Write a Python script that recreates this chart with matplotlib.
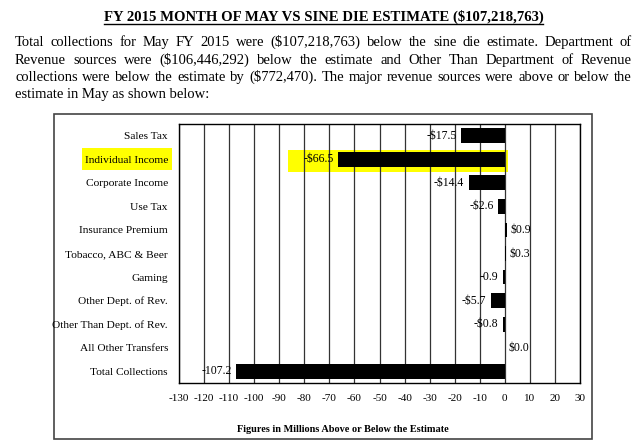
import matplotlib
matplotlib.use('Agg')
import matplotlib.pyplot as plt
from matplotlib.patches import Rectangle
from matplotlib.lines import Line2D

# data
categories = ['Sales Tax', 'Individual Income', 'Corporate Income', 'Use Tax',
              'Insurance Premium', 'Tobacco, ABC & Beer', 'Gaming',
              'Other Dept. of Rev.', 'Other Than Dept. of Rev.',
              'All Other Transfers', 'Total Collections']
values = [-17.5, -66.5, -14.4, -2.6, 0.9, 0.3, -0.9, -5.7, -0.8, 0.0, -107.2]
bar_labels = ['-$17.5', '-$66.5', '-$14.4', '-$2.6', '$0.9', '$0.3', '-0.9',
              '-$5.7', '-$0.8', '$0.0', '-107.2']
xticks = list(range(-130, 31, 10))

title = 'FY 2015 MONTH OF MAY VS SINE DIE ESTIMATE ($107,218,763)'
para = ['Total collections for May FY 2015 were ($107,218,763) below the sine die estimate.  Department of',
        'Revenue sources were ($106,446,292) below the estimate and Other Than Department of Revenue',
        'collections were below the estimate by ($772,470).  The major revenue sources were above or below the',
        'estimate in May as shown below:']

W, H = 640, 441
plt.rcParams['font.family'] = 'Liberation Serif'
fig = plt.figure(figsize=(W / 100, H / 100), dpi=100)

def fx(px):
    return px / W

def fy(py):
    return 1 - py / H

# title + underline
t = fig.text(fx(323.5), fy(21), title, ha='center', va='baseline', fontsize=10.6, fontweight='bold')
fig.canvas.draw()
r = fig.canvas.get_renderer()
bb = t.get_window_extent(r)
fig.add_artist(Line2D([bb.x0 / W, bb.x1 / W], [fy(23.5), fy(23.5)], color='black', lw=1))

# justified paragraph (baseline positions)
left_px, right_px = 15, 632
line_y = [46, 64, 81, 98]
for i, line in enumerate(para):
    if i == len(para) - 1:
        fig.text(fx(left_px), fy(line_y[i]), line, ha='left', va='baseline', fontsize=10.5)
        continue
    words = [w for w in line.split(' ') if w != '']
    txts = [fig.text(0, fy(line_y[i]), w, ha='left', va='baseline', fontsize=10.5) for w in words]
    widths = [tx.get_window_extent(r).width for tx in txts]
    gap = ((right_px - left_px) - sum(widths)) / (len(words) - 1)
    x = left_px
    for tx, w in zip(txts, widths):
        tx.set_x(fx(x))
        x += w + gap

# box around chart
fig.add_artist(Rectangle((fx(54), fy(439)), fx(592 - 54), (439 - 114) / H,
                         fill=False, edgecolor='#444444', lw=1.2))

# yellow highlights
fig.add_artist(Rectangle((fx(82), fy(170)), fx(90), 22 / H, color='#ffff00', lw=0, zorder=0.5))
fig.add_artist(Rectangle((fx(288), fy(172)), fx(220), 22 / H, color='#ffff00', lw=0, zorder=0.5))

ax = fig.add_axes([fx(179), fy(383), fx(580 - 179), (383 - 124) / H])
ax.patch.set_visible(False)
ax.set_zorder(1)
y = list(range(len(categories)))
ax.barh(y, values, height=0.63, color='black', zorder=3)
for yi, v, lab in zip(y, values, bar_labels):
    if v < 0:
        ax.text(v - 1.8, yi, lab, ha='right', va='center', fontsize=8.5, zorder=4)
    else:
        ax.text(v + 1.5, yi, lab, ha='left', va='center', fontsize=8.5, zorder=4)

ax.set_xlim(-130, 30)
ax.set_ylim(len(categories) - 0.5, -0.5)
ax.set_xticks(xticks)
ax.set_xticklabels([str(v) for v in xticks], fontsize=8)
ax.set_yticks(y)
ax.set_yticklabels(categories, fontsize=8.2)
ax.tick_params(axis='y', length=0, pad=8)
ax.tick_params(axis='x', length=0, pad=8)
ax.xaxis.grid(True, color='#333333', lw=0.9)
ax.set_axisbelow(True)
for s in ax.spines.values():
    s.set_color('black')
    s.set_linewidth(1)
fig.text(fx(343), fy(430), 'Figures in Millions Above or Below the Estimate', ha='center', va='center',
         fontsize=7.4, fontweight='bold')

fig.savefig('out.png', dpi=100)
